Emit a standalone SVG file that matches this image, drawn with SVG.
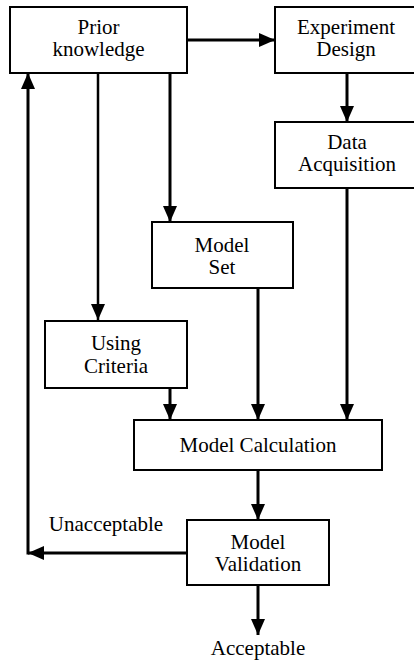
<svg xmlns="http://www.w3.org/2000/svg" width="414" height="661" viewBox="0 0 414 661">
<style>
.box{fill:#fff;stroke:#000;stroke-width:2}
.t{font-family:'Liberation Serif','Tinos','Nimbus Roman','Times New Roman','DejaVu Serif',serif;font-size:21px;fill:#000;text-anchor:middle}
.c{fill:none;stroke:#000;stroke-width:3}
</style>
<defs>
<marker id="ah" markerUnits="userSpaceOnUse" markerWidth="16" markerHeight="14" refX="16" refY="7" orient="auto">
<path d="M0,0 L16,7 L0,14 Z" fill="#000"/>
</marker>
</defs>
<rect width="414" height="661" fill="#fff"/>
<g id="connectors">
<line class="c" x1="187" y1="40" x2="275" y2="40" marker-end="url(#ah)"/>
<line class="c" x1="347" y1="73" x2="347" y2="122" marker-end="url(#ah)"/>
<line class="c" x1="170" y1="73" x2="170" y2="222" marker-end="url(#ah)"/>
<line class="c" x1="98" y1="73" x2="98" y2="320" marker-end="url(#ah)" style="stroke-width:2.5"/>
<line class="c" x1="170" y1="388" x2="170" y2="420" marker-end="url(#ah)"/>
<line class="c" x1="258" y1="288" x2="258" y2="420" marker-end="url(#ah)"/>
<line class="c" x1="347" y1="188" x2="347" y2="420" marker-end="url(#ah)"/>
<line class="c" x1="258" y1="470" x2="258" y2="520" marker-end="url(#ah)"/>
<line class="c" x1="258" y1="585" x2="258" y2="635" marker-end="url(#ah)"/>
<line class="c" x1="187" y1="553" x2="28" y2="553" marker-end="url(#ah)"/>
<line class="c" x1="28" y1="554.5" x2="28" y2="73" marker-end="url(#ah)"/>
<text class="t" x="106" y="531">Unacceptable</text>
<text class="t" x="258" y="655">Acceptable</text>
</g>
<g id="prior">
<rect class="box" x="10" y="7" width="177" height="66"/>
<text class="t" x="98.5" y="34">Prior</text>
<text class="t" x="98.5" y="56">knowledge</text>
</g>
<g id="experiment">
<rect class="box" x="275" y="7" width="150" height="66"/>
<text class="t" x="346" y="34">Experiment</text>
<text class="t" x="346" y="56">Design</text>
</g>
<g id="data">
<rect class="box" x="275" y="122" width="150" height="66"/>
<text class="t" x="347" y="149">Data</text>
<text class="t" x="347" y="171">Acquisition</text>
</g>
<g id="modelset">
<rect class="box" x="152" y="222" width="141" height="66"/>
<text class="t" x="222" y="252">Model</text>
<text class="t" x="222" y="274">Set</text>
</g>
<g id="criteria">
<rect class="box" x="45" y="321" width="142" height="67"/>
<text class="t" x="116" y="350">Using</text>
<text class="t" x="116" y="373">Criteria</text>
</g>
<g id="calculation">
<rect class="box" x="134" y="420" width="248" height="50"/>
<text class="t" x="258" y="452">Model Calculation</text>
</g>
<g id="validation">
<rect class="box" x="187" y="520" width="142" height="65"/>
<text class="t" x="258" y="549">Model</text>
<text class="t" x="258" y="571">Validation</text>
</g>
</svg>
